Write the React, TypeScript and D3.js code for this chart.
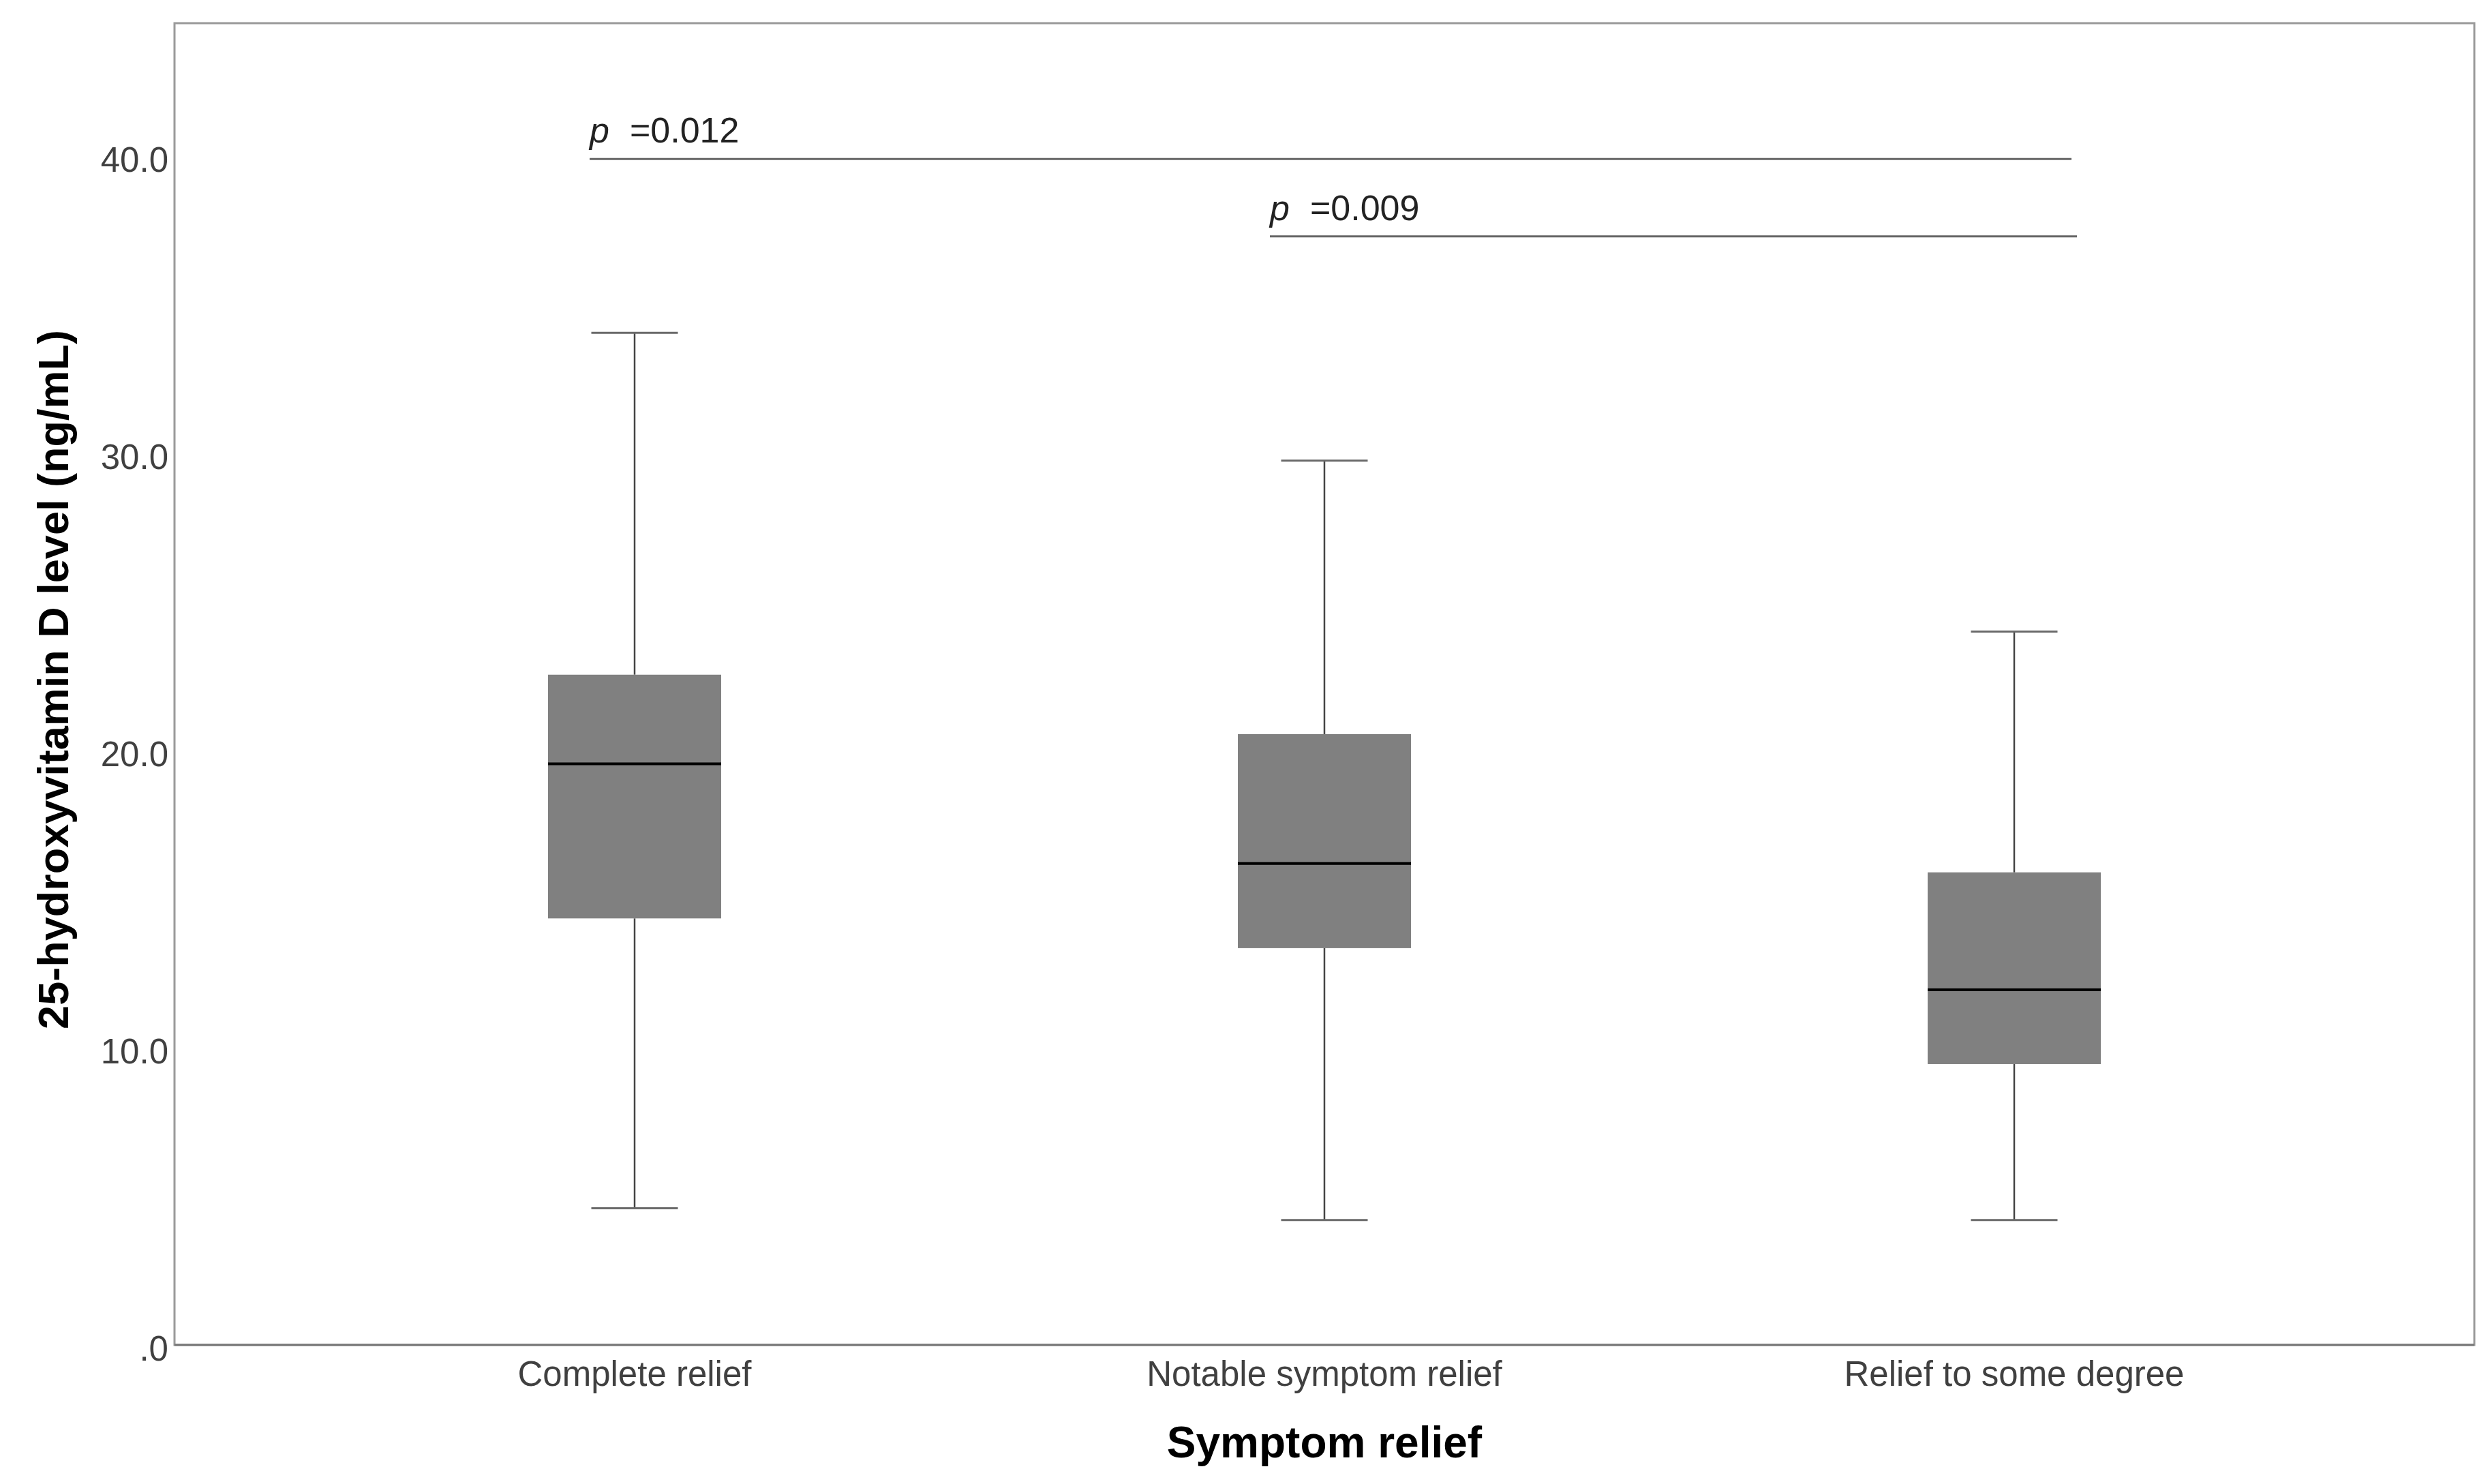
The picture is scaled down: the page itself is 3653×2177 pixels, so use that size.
import { useEffect, useRef } from "react";
import * as d3 from "d3";

// Box statistics per symptom-relief group (ng/mL)
const categories = ["Complete relief", "Notable symptom relief", "Relief to some degree"];
const whiskerLow = [4.6, 4.2, 4.2];
const q1 = [14.35, 13.35, 9.45];
const median = [19.55, 16.2, 11.95];
const q3 = [22.55, 20.55, 15.9];
const whiskerHigh = [34.05, 29.75, 24.0];

const yTicks = [0, 10, 20, 30, 40];
const yTickLabels = [".0", "10.0", "20.0", "30.0", "40.0"];

// significance brackets
const pValues = ["0.012", "0.009"];
const pFrom = [0, 1];
const pTo = [2, 2];
const pLevel = [39.9, 37.3];

const W = 3653;
const H = 2177;

export default function App() {
  const svgRef = useRef<SVGSVGElement | null>(null);

  useEffect(() => {
    if (!svgRef.current) return;
    const svg = d3.select(svgRef.current);
    svg.selectAll("*").remove();

    const left = 256, right = 3630, top = 34, bottom = 1973;
    const font = "'Liberation Sans', Arial, sans-serif";

    const x = d3.scalePoint<string>().domain(categories).range([left, right]).padding(0.667);
    const y = d3.scaleLinear().domain([0, 44.47]).range([bottom, top]);
    const step = x.step();
    const boxW = step * 0.251;
    const capW = boxW / 2;

    svg.append("rect").attr("width", W).attr("height", H).attr("fill", "#fff");

    // frame
    svg.append("rect")
      .attr("x", left).attr("y", top)
      .attr("width", right - left).attr("height", bottom - top)
      .attr("fill", "none").attr("stroke", "#9a9a9a").attr("stroke-width", 3);
    svg.append("line")
      .attr("x1", left).attr("x2", right).attr("y1", bottom).attr("y2", bottom)
      .attr("stroke", "#777").attr("stroke-width", 3);

    // y tick labels
    svg.append("g")
      .selectAll("text")
      .data(yTicks)
      .join("text")
      .attr("x", left - 9)
      .attr("y", (d) => y(d))
      .attr("dy", "0.45em")
      .attr("text-anchor", "end")
      .attr("font-family", font)
      .attr("font-size", 51)
      .attr("fill", "#404040")
      .text((_, i) => yTickLabels[i]);

    // category labels
    svg.append("g")
      .selectAll("text")
      .data(categories)
      .join("text")
      .attr("x", (d) => x(d)!)
      .attr("y", 2033)
      .attr("text-anchor", "middle")
      .attr("font-family", font)
      .attr("font-size", 51)
      .attr("fill", "#404040")
      .text((d) => d);

    // axis titles
    svg.append("text")
      .attr("x", x(categories[1])!)
      .attr("y", 2138)
      .attr("text-anchor", "middle")
      .attr("font-family", font)
      .attr("font-weight", 700)
      .attr("font-size", 64)
      .attr("fill", "#000")
      .text("Symptom relief");

    svg.append("text")
      .attr("transform", `translate(100, 997) rotate(-90)`)
      .attr("text-anchor", "middle")
      .attr("font-family", font)
      .attr("font-weight", 700)
      .attr("font-size", 63)
      .attr("fill", "#000")
      .text("25-hydroxyvitamin D level (ng/mL)");

    // boxes
    const g = svg.append("g")
      .selectAll("g")
      .data(categories)
      .join("g");

    g.append("line")
      .attr("x1", (d) => x(d)!).attr("x2", (d) => x(d)!)
      .attr("y1", (_, i) => y(whiskerHigh[i])).attr("y2", (_, i) => y(q3[i]))
      .attr("stroke", "#444").attr("stroke-width", 2.5);
    g.append("line")
      .attr("x1", (d) => x(d)!).attr("x2", (d) => x(d)!)
      .attr("y1", (_, i) => y(q1[i])).attr("y2", (_, i) => y(whiskerLow[i]))
      .attr("stroke", "#444").attr("stroke-width", 2.5);

    [whiskerHigh, whiskerLow].forEach((arr) => {
      g.append("line")
        .attr("x1", (d) => x(d)! - capW / 2).attr("x2", (d) => x(d)! + capW / 2)
        .attr("y1", (_, i) => y(arr[i])).attr("y2", (_, i) => y(arr[i]))
        .attr("stroke", "#6a6a6a").attr("stroke-width", 3);
    });

    g.append("rect")
      .attr("x", (d) => x(d)! - boxW / 2)
      .attr("width", boxW)
      .attr("y", (_, i) => y(q3[i]))
      .attr("height", (_, i) => y(q1[i]) - y(q3[i]))
      .attr("fill", "#808080");

    g.append("line")
      .attr("x1", (d) => x(d)! - boxW / 2).attr("x2", (d) => x(d)! + boxW / 2)
      .attr("y1", (_, i) => y(median[i])).attr("y2", (_, i) => y(median[i]))
      .attr("stroke", "#000").attr("stroke-width", 4);

    // p-value brackets
    const startPad = [66, 80];
    const endPad = [84, 92];
    const ann = svg.append("g")
      .selectAll("g")
      .data(pValues)
      .join("g");

    ann.append("line")
      .attr("x1", (_, i) => x(categories[pFrom[i]])! - startPad[i])
      .attr("x2", (_, i) => x(categories[pTo[i]])! + endPad[i])
      .attr("y1", (_, i) => y(pLevel[i]))
      .attr("y2", (_, i) => y(pLevel[i]))
      .attr("stroke", "#666").attr("stroke-width", 3);

    const t = ann.append("text")
      .attr("x", (_, i) => x(categories[pFrom[i]])! - startPad[i])
      .attr("y", (_, i) => y(pLevel[i]) - 24)
      .attr("font-family", font)
      .attr("font-size", 52)
      .attr("fill", "#222");
    t.append("tspan").attr("font-style", "italic").text("p");
    t.append("tspan").attr("dx", 30).text((d) => "=" + d);
  }, []);

  return (
    <svg
      ref={svgRef}
      width={W}
      height={H}
      style={{ position: "absolute", left: 0, top: 0, display: "block" }}
    />
  );
}
